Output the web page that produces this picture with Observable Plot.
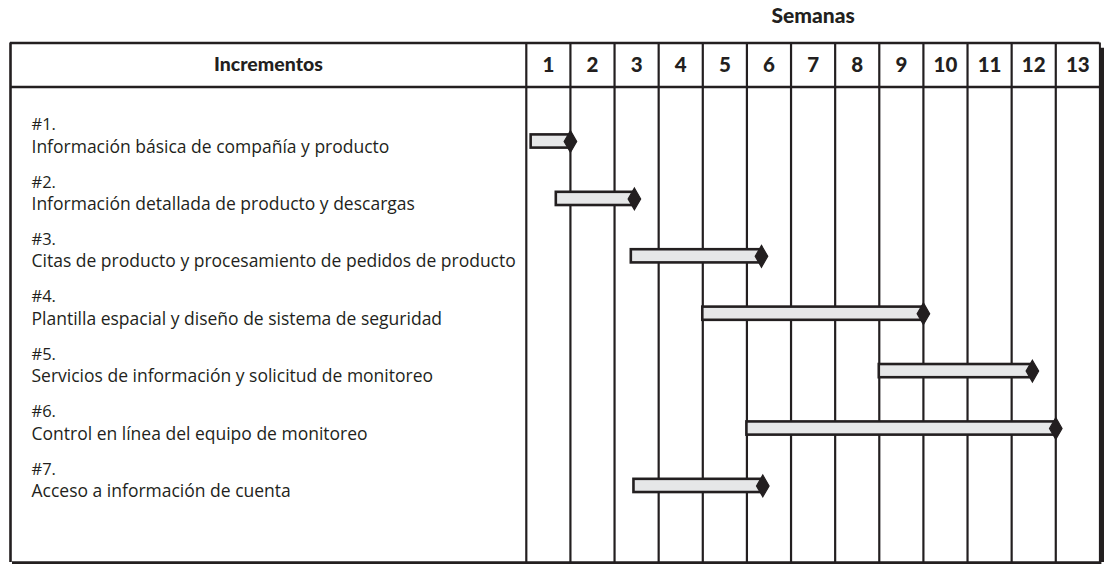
<!DOCTYPE html>
<html>
<head>
<meta charset="utf-8">
<script src="https://cdn.jsdelivr.net/npm/d3@7"></script>
<script src="https://cdn.jsdelivr.net/npm/@observablehq/plot@0.6"></script>
<style>
  html, body { margin: 0; padding: 0; background: #fff; }
  #chart svg { display: block; }
</style>
</head>
<body>
<div id="chart"></div>
<script>
// ---- data ----
const weeks = [1, 2, 3, 4, 5, 6, 7, 8, 9, 10, 11, 12, 13];
const increments = ["#1.", "#2.", "#3.", "#4.", "#5.", "#6.", "#7."];
const descriptions = [
  "Información básica de compañía y producto",
  "Información detallada de producto y descargas",
  "Citas de producto y procesamiento de pedidos de producto",
  "Plantilla espacial y diseño de sistema de seguridad",
  "Servicios de información y solicitud de monitoreo",
  "Control en línea del equipo de monitoreo",
  "Acceso a información de cuenta"
];
const startWeek = [0.11, 0.68, 2.38, 4.0, 8.0, 5.0, 2.44];
const endWeek   = [1.0, 2.45, 5.33, 9.0, 11.47, 12.0, 5.36];
const headerLabel = "Incrementos";
const titleLabel = "Semanas";

// ---- derived table ----
const rows = increments.map((id, i) => ({
  id, desc: descriptions[i], start: startWeek[i], end: endWeek[i], row: i + 1
}));

// layout in scale units
const labelColLeft = -11.69;   // left edge of the "Incrementos" column (weeks units)
const tableTop = -0.716;       // top edge (row units)
const headerBottom = 0.05;
const tableBottom = 8.334;
const headerMid = -0.333;
const titleMid = -1.178;
const ink = "#231f20";
const gridLines = [0, ...weeks.slice(0, -1)];

const chart = Plot.plot({
  width: 1104,
  height: 564,
  marginLeft: 10, marginRight: 4.6, marginTop: 42.5, marginBottom: 2,
  x: {domain: [labelColLeft, 13], range: [10, 1099.4], axis: null},
  y: {domain: [tableTop, tableBottom], range: [42.5, 562], axis: null},
  style: {fontFamily: "'Open Sans', sans-serif", color: ink, background: "#fff"},
  marks: [
    // interior vertical grid lines
    Plot.ruleX(gridLines, {x: d => d, y1: tableTop, y2: tableBottom, stroke: ink, strokeWidth: 2.2}),
    // outer border
    Plot.ruleY([tableTop], {x1: labelColLeft, x2: 13, stroke: ink, strokeWidth: 2.6}),
    Plot.ruleX([labelColLeft], {y1: tableTop, y2: tableBottom, stroke: ink, strokeWidth: 2.6}),
    Plot.ruleX([13], {y1: tableTop, y2: tableBottom, stroke: ink, strokeWidth: 2}),
    Plot.ruleX([13], {y1: tableTop + 0.09, y2: tableBottom, stroke: ink, strokeWidth: 4.5, dx: 2.2}),
    Plot.ruleY([tableBottom], {x1: labelColLeft, x2: 13, stroke: ink, strokeWidth: 3.6, dx: 2, dy: 0.5}),
    // header separator
    Plot.ruleY([headerBottom], {x1: labelColLeft, x2: 13, stroke: ink, strokeWidth: 2.6}),
    // header texts
    Plot.text(weeks, {x: d => d - 0.5, y: headerMid, text: d => String(d),
      fontSize: 20.5, fontWeight: 900, fill: ink, fontFamily: "Lato, sans-serif"}),
    Plot.text([headerLabel], {x: labelColLeft / 2, y: headerMid, text: d => d,
      fontSize: 19.5, fontWeight: 900, fill: ink, fontFamily: "Lato, sans-serif"}),
    Plot.text([titleLabel], {x: 6.5, y: titleMid, text: d => d,
      fontSize: 21, fontWeight: 900, fill: ink, fontFamily: "Lato, sans-serif"}),
    // bars
    Plot.rect(rows, {x1: "start", x2: "end", y1: d => d.row - 0.115, y2: d => d.row + 0.115,
      fill: "#e6e7e8", stroke: ink, strokeWidth: 2.6}),
    Plot.dot(rows, {x: "end", y: "row", symbol: "diamond", r: 6.6, fill: ink, stroke: ink, strokeWidth: 1.2}),
    // row labels
    Plot.text(rows, {x: labelColLeft, y: "row", text: "id", textAnchor: "start", dx: 21, dy: -16.5,
      fontSize: 16.5, fill: ink}),
    Plot.text(rows, {x: labelColLeft, y: "row", text: "desc", textAnchor: "start", dx: 21, dy: 5.5,
      fontSize: 17.5, fill: ink})
  ]
});
document.getElementById("chart").appendChild(chart);
</script>
</body>
</html>
